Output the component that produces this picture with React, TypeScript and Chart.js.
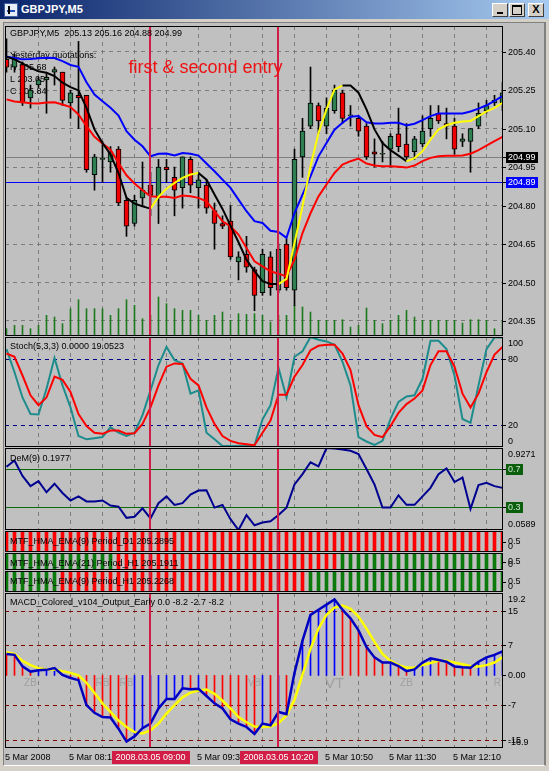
import React, { useEffect, useRef } from "react";
import { Chart, registerables } from "chart.js";

Chart.register(...registerables);

// ---------------- data ----------------
const opens = [205.37, 205.34, 205.35, 205.22, 205.27, 205.29, 205.32, 205.32, 205.20, 205.23,
  205.23, 204.92, 204.98, 204.97, 205.02, 204.82, 204.73, 204.83, 204.88, 204.83,
  204.95, 204.91, 204.87, 204.98, 204.87, 204.88, 204.78, 204.73, 204.74, 204.58,
  204.61, 204.55, 204.46, 204.60, 204.47, 204.65, 204.47, 204.99, 205.11, 205.19,
  205.11, 205.17, 205.24, 205.15, 205.14, 205.11, 205.01, 205.00, 205.02, 205.08,
  205.04, 205.01, 205.04, 205.10, 205.16, 205.12, 205.11, 205.05, 205.05, 205.11,
  205.17, 205.20, 205.20];
const highs = [205.45, 205.39, 205.36, 205.27, 205.30, 205.32, 205.34, 205.32, 205.25, 205.44,
  205.23, 205.00, 205.05, 205.03, 205.03, 204.83, 204.84, 204.97, 204.93, 204.98,
  204.98, 204.95, 204.99, 204.99, 204.93, 204.90, 204.81, 204.76, 204.80, 204.62,
  204.68, 204.56, 204.63, 204.62, 204.65, 204.67, 205.02, 205.14, 205.34, 205.20,
  205.22, 205.27, 205.25, 205.19, 205.15, 205.12, 205.06, 205.05, 205.08, 205.18,
  205.12, 205.07, 205.15, 205.19, 205.19, 205.18, 205.14, 205.08, 205.10, 205.20,
  205.21, 205.23, 205.28];
const lows = [205.32, 205.32, 205.19, 205.18, 205.26, 205.16, 205.27, 205.19, 205.14, 205.10,
  204.93, 204.86, 204.89, 204.93, 204.80, 204.68, 204.72, 204.80, 204.76, 204.73,
  204.89, 204.76, 204.79, 204.85, 204.79, 204.77, 204.63, 204.71, 204.59, 204.51,
  204.54, 204.39, 204.45, 204.45, 204.46, 204.47, 204.41, 204.91, 205.10, 205.08,
  205.08, 205.16, 205.12, 205.11, 205.07, 204.98, 204.95, 204.97, 204.95, 205.01,
  204.98, 204.98, 205.03, 205.07, 205.12, 205.06, 205.00, 205.03, 204.93, 205.10,
  205.16, 205.19, 205.17];
const closes = [205.34, 205.37, 205.20, 205.25, 205.29, 205.30, 205.33, 205.21, 205.24, 205.22,
  204.94, 204.99, 204.98, 205.01, 204.81, 204.72, 204.82, 204.86, 204.84, 204.95,
  204.94, 204.86, 204.99, 204.88, 204.90, 204.79, 204.73, 204.72, 204.60, 204.60,
  204.56, 204.45, 204.61, 204.48, 204.63, 204.48, 204.98, 205.09, 205.20, 205.13,
  205.18, 205.25, 205.14, 205.15, 205.09, 204.99, 205.00, 205.00, 205.07, 205.03,
  204.99, 205.06, 205.09, 205.14, 205.13, 205.11, 205.02, 205.06, 205.10, 205.16,
  205.19, 205.21, 205.24];
const volumes = [22, 32, 32, 22, 32, 62, 57, 37, 82, 109,
  82, 82, 82, 62, 82, 109, 92, 52, 62, 117,
  97, 82, 77, 77, 62, 47, 62, 72, 47, 67,
  65, 67, 62, 42, 62, 62, 92, 87, 72, 47,
  47, 47, 49, 27, 32, 84, 47, 37, 47, 62,
  77, 57, 47, 47, 47, 47, 47, 39, 49, 49,
  47, 22, 47];
const maBlue = [205.380, 205.375, 205.370, 205.371, 205.374, 205.376, 205.375, 205.363, 205.348, 205.341,
  205.281, 205.233, 205.207, 205.181, 205.151, 205.090, 205.057, 205.031, 204.992, 205.002,
  205.003, 204.995, 205.005, 205.002, 204.995, 204.964, 204.934, 204.901, 204.869, 204.823,
  204.778, 204.739, 204.732, 204.702, 204.697, 204.674, 204.771, 204.843, 204.914, 204.992,
  205.044, 205.096, 205.123, 205.146, 205.149, 205.125, 205.120, 205.120, 205.123, 205.123,
  205.112, 205.119, 205.133, 205.149, 205.159, 205.159, 205.159, 205.159, 205.167, 205.178,
  205.191, 205.208, 205.227];
const maRed = [205.214, 205.206, 205.203, 205.199, 205.198, 205.202, 205.203, 205.194, 205.184, 205.155,
  205.110, 205.068, 205.042, 205.018, 204.966, 204.918, 204.886, 204.860, 204.836, 204.834,
  204.834, 204.830, 204.839, 204.836, 204.830, 204.817, 204.778, 204.739, 204.719, 204.687,
  204.635, 204.583, 204.563, 204.544, 204.534, 204.524, 204.589, 204.693, 204.770, 204.836,
  204.882, 204.927, 204.960, 204.973, 204.983, 204.964, 204.956, 204.953, 204.953, 204.951,
  204.948, 204.956, 204.973, 204.986, 204.992, 204.994, 204.994, 204.995, 205.002, 205.016,
  205.034, 205.051, 205.068];
const hmaColored = [205.380, 205.370, 205.354, 205.337, 205.324, 205.318, 205.305, 205.279, 205.262, 205.249,
  205.181, 205.097, 205.044, 204.999, 204.927, 204.830, 204.808, 204.797, 204.788, 204.834,
  204.866, 204.888, 204.908, 204.921, 204.927, 204.901, 204.843, 204.787, 204.722, 204.657,
  204.589, 204.544, 204.505, 204.494, 204.494, 204.514, 204.654, 204.797, 204.953, 205.083,
  205.175, 205.253, 205.268, 205.268, 205.240, 205.175, 205.097, 205.044, 205.016, 204.995,
  204.973, 204.985, 205.012, 205.057, 205.097, 205.113, 205.123, 205.128, 205.130, 205.149,
  205.167, 205.181, 205.201];
const stochMain = [89, 68, 45, 30, 29.5, 53, 81, 56, 36, 10,
  7, 8, 9, 18, 13, 10, 13, 29, 51.5, 74.5,
  91, 79, 76, 48.5, 51.5, 13, 7, 1, 1, 1,
  1, 1.6, 25, 38, 72, 45, 82, 87, 100, 97.5,
  96, 93, 77.5, 56, 9, 5, 2, 5.6, 25.5, 41,
  46, 47, 62, 96.5, 96.5, 89, 65, 25.5, 22, 56,
  89, 99.6, 99.6];
const stochSignal = [85, 82, 65, 47, 38, 45, 64, 61, 50, 30,
  19, 13, 12, 15, 15, 12, 12.5, 21, 36, 56,
  73, 76, 75.5, 62, 56, 36, 21, 10, 5.6, 3.5,
  2.6, 1.6, 13, 24, 47.5, 47.5, 64, 74.5, 88, 92,
  93, 93, 85, 70, 38, 19, 11, 9, 19, 31,
  39, 44, 51.5, 74.5, 87, 87, 73, 48.5, 36, 48.5,
  68, 84, 91];
const deMarker = [0.729, 0.794, 0.632, 0.523, 0.577, 0.459, 0.549, 0.451, 0.372, 0.415,
  0.361, 0.361, 0.372, 0.318, 0.307, 0.188, 0.199, 0.289, 0.181, 0.343,
  0.415, 0.325, 0.343, 0.433, 0.477, 0.480, 0.296, 0.325, 0.174, 0.059,
  0.217, 0.109, 0.138, 0.152, 0.217, 0.296, 0.541, 0.650, 0.776, 0.732,
  0.927, 0.921, 0.912, 0.898, 0.862, 0.704, 0.541, 0.296, 0.296, 0.426,
  0.325, 0.325, 0.415, 0.505, 0.650, 0.711, 0.567, 0.614, 0.282, 0.534,
  0.559, 0.523, 0.505];
// +1 = up (green), -1 = down (red)
const mtfD1Trend = [-1, -1, -1, -1, -1, -1, -1, -1, -1, -1, -1, -1, -1, -1, -1, -1, -1, -1, -1, -1, -1,
  -1, -1, -1, -1, -1, -1, -1, -1, -1, -1, -1, -1, -1, -1, -1, -1, -1, -1, -1, -1, -1,
  -1, -1, -1, -1, -1, -1, -1, -1, -1, -1, -1, -1, -1, -1, -1, -1, -1, -1, -1, -1, -1];
const mtfH1Ema21Trend = [1, 1, 1, 1, 1, 1, 1, 1, 1, 1, 1, 1, 1, 1,
  -1, -1, -1, -1, -1, -1, -1, -1, -1, -1, -1, -1, -1, -1, -1, -1, -1, -1, -1, -1, -1, -1, -1, -1, -1, -1, -1, -1,
  1, 1, 1, 1, 1, 1, 1, 1, 1, 1, 1, 1, 1, 1, 1, 1, 1, 1, 1, 1, 1];
const mtfH1Ema9Trend = [1, 1, 1, 1, 1, 1, 1,
  -1, -1, -1, -1, -1, -1, -1, -1, -1, -1, -1, -1, -1, -1, -1, -1, -1, -1, -1, -1, -1, -1, -1, -1, -1,
  -1, -1, -1, -1, -1, -1,
  1, 1, 1, 1, 1, 1, 1, 1, 1, 1, 1, 1, 1, 1, 1, 1, 1, 1, 1, 1, 1, 1, 1, 1, 1];
const macdMain = [5.0, 4.8, 2.1, 0.9, 1.2, 1.3, 1.7, 0.1, -0.6, -1.1,
  -6.9, -8.7, -9.7, -9.8, -12.4, -15.4, -14.2, -12.3, -11.2, -7.7,
  -5.5, -5.5, -3.0, -3.2, -3.1, -4.8, -6.5, -7.7, -10.2, -11.2,
  -12.0, -13.6, -11.2, -11.6, -8.5, -9.0, 0.6, 8.1, 14.1, 15.3,
  16.5, 17.7, 15.3, 13.3, 10.5, 6.6, 4.2, 3.0, 3.0, 2.2,
  1.0, 1.4, 3.0, 4.0, 3.6, 3.2, 2.1, 1.9, 1.8, 3.2,
  4.2, 4.8, 5.6];
const macdSignal = [5.4, 5.0, 3.4, 2.4, 1.7, 1.4, 1.4, 1.0, 0.6, 0.0,
  -1.7, -4.1, -6.5, -8.5, -10.5, -12.0, -13.2, -13.5, -12.8, -11.2,
  -8.9, -6.9, -5.1, -4.0, -3.5, -3.3, -4.3, -5.9, -7.7, -9.7,
  -10.9, -11.9, -12.0, -11.9, -11.1, -9.3, -5.7, 0.2, 6.2, 10.9,
  14.1, 15.8, 16.3, 15.5, 13.7, 10.9, 7.8, 5.0, 3.4, 2.4,
  1.8, 1.8, 2.4, 2.9, 3.4, 3.4, 3.0, 2.6, 2.2, 2.1,
  2.4, 3.0, 4.2];

const priceTicks = [205.4, 205.25, 205.1, 204.95, 204.8, 204.65, 204.5, 204.35];
const priceRange = [204.2915, 205.5001];
const stochLevels = [80, 20];
const stochAxisTicks = [100, 80, 20, 0];
const demLevels = [0.7, 0.3];
const demRange = [0.0589, 0.9271];
const macdLevels = [15, 7, -7, -15];
const macdAxisTicks = [19.2, 15, 7, 0, -7, -15, -16.9];
const macdAxisTexts = ["19.2", "15", "7", "0.00", "-7", "-15", "-16.9"];
const macdRange = [-16.9, 19.2];
const gridBars = [4, 8, 12, 16, 20, 24, 28, 32, 36, 40, 44, 48, 52, 56, 60];
const timeLabelBars = [0, 8, 16, 24, 32, 40, 48, 56];
const timeLabelTexts = ["5 Mar 2008", "5 Mar 08:10", "5 Mar 08:50", "5 Mar 09:30", "5 Mar 10:10", "5 Mar 10:50", "5 Mar 11:30", "5 Mar 12:10"];
const entryBars = [18, 34];
const entryTexts = ["2008.03.05 09:00", "2008.03.05 10:20"];
const bidPrice = 204.99;
const userLinePrice = 204.89;
const macdMarkBars = [3, 12, 15, 31, 41, 50, 62];
const macdMarkTexts = ["ZB", "RB", "RB", "VB", "VT", "ZB", "R"];

// ---------------- style ----------------
const FONT = '"Liberation Sans", Arial, sans-serif';
const F9 = `9px ${FONT}`;
const X_MIN = -0.1875;
const X_MAX = X_MIN + 62.25;
const AXIS_W = 42;
const GRID = "#7c7c7c";
const ENTRY = "#d21e46";
const BULL = "#2f7f52";
const BEAR = "#ee0000";

const pts = (arr: number[]) => arr.map((v, i) => ({ x: i, y: v }));

function drawText(ctx: CanvasRenderingContext2D, a: any, t: any) {
  ctx.font = t.font || F9;
  ctx.fillStyle = t.color || "#000";
  ctx.textAlign = t.align || "left";
  ctx.textBaseline = t.baseline || "middle";
  ctx.fillText(t.text, a.left + t.x, a.top + t.y);
}

function deco(d: any) {
  return {
    id: "mt4deco",
    beforeDatasetsDraw(chart: any) {
      const { ctx, chartArea: a, scales } = chart;
      ctx.save();
      ctx.beginPath();
      ctx.rect(a.left, a.top, a.right - a.left, a.bottom - a.top);
      ctx.clip();
      for (const l of d.levels || []) {
        const py = Math.round(scales.y.getPixelForValue(l.value)) + 0.5;
        ctx.strokeStyle = l.color;
        ctx.lineWidth = 1;
        ctx.setLineDash(l.dash || []);
        ctx.beginPath();
        ctx.moveTo(a.left, py);
        ctx.lineTo(a.right, py);
        ctx.stroke();
      }
      ctx.setLineDash([]);
      for (const t of d.backTexts || []) drawText(ctx, a, t);
      ctx.restore();
    },
    afterDatasetsDraw(chart: any) {
      const { ctx, chartArea: a, scales } = chart;
      ctx.save();
      ctx.beginPath();
      ctx.rect(a.left, a.top, a.right - a.left, a.bottom - a.top);
      ctx.clip();
      if (d.marks) {
        d.marks.bars.forEach((b: number, i: number) => {
          const txt = d.marks.texts[i];
          ctx.font = txt === "VT" ? `15px ${FONT}` : `10px ${FONT}`;
          ctx.fillStyle = "#a0a0a0";
          ctx.textAlign = "center";
          ctx.textBaseline = "middle";
          const w = ctx.measureText(txt).width;
          const px = Math.min(scales.x.getPixelForValue(b), a.right - 2 - w / 2);
          ctx.fillText(txt, px, scales.y.getPixelForValue(d.marks.value));
        });
      }
      ctx.strokeStyle = ENTRY;
      ctx.lineWidth = 2;
      for (const b of entryBars) {
        const px = Math.floor(scales.x.getPixelForValue(b));
        ctx.beginPath();
        ctx.moveTo(px, a.top);
        ctx.lineTo(px, a.bottom);
        ctx.stroke();
      }
      for (const t of d.frontTexts || []) drawText(ctx, a, t);
      ctx.restore();
    },
    afterDraw(chart: any) {
      const { ctx, chartArea: a, scales } = chart;
      ctx.save();
      ctx.setLineDash([]);
      ctx.strokeStyle = "#000";
      ctx.lineWidth = 1;
      ctx.strokeRect(a.left + 0.5, a.top + 0.5, a.right - a.left - 1, a.bottom - a.top - 1);
      ctx.font = F9;
      ctx.textBaseline = "middle";
      ctx.textAlign = "left";
      for (const r of d.rightLabels || []) {
        const raw = scales.y.getPixelForValue(r.value);
        const py = Math.min(Math.max(raw, a.top + 6), a.bottom - 6);
        if (raw > a.top + 1 && raw < a.bottom - 1) {
          ctx.fillStyle = "#000";
          ctx.fillRect(a.right, Math.round(raw), 3, 1);
        }
        const tx = a.right + 5;
        if (r.bg) {
          const w = ctx.measureText(r.text).width;
          ctx.fillStyle = r.bg;
          ctx.fillRect(tx - 2, Math.round(py) - 5, Math.ceil(w) + 4, 11);
        }
        ctx.fillStyle = r.fg || "#000";
        ctx.fillText(r.text, tx, py + 0.5);
      }
      if (d.timeAxis) {
        const ty = a.bottom + 10;
        ctx.fillStyle = "#000";
        ctx.textAlign = "left";
        timeLabelBars.forEach((b, i) => {
          ctx.fillText(timeLabelTexts[i], scales.x.getPixelForValue(b) - 1.5, ty);
        });
        entryBars.forEach((b, i) => {
          const px = scales.x.getPixelForValue(b);
          const w = Math.round(ctx.measureText(entryTexts[i]).width + 8);
          ctx.fillStyle = ENTRY;
          ctx.fillRect(Math.round(px - w / 2), a.bottom + 3, w, 13);
          ctx.fillStyle = "#fff";
          ctx.textAlign = "center";
          ctx.fillText(entryTexts[i], px, ty);
          ctx.textAlign = "left";
        });
      }
      ctx.restore();
    },
  };
}

function baseOptions(yMin: number, yMax: number, o: any) {
  const scales: any = {
    x: {
      type: "linear",
      min: X_MIN,
      max: X_MAX,
      offset: false,
      afterBuildTicks: (s: any) => {
        s.ticks = gridBars.map((v) => ({ value: v }));
      },
      ticks: { display: false },
      grid: { display: !!o.xGrid, color: GRID, lineWidth: 1, drawTicks: false, offset: false },
      border: { display: false, dash: [4, 4] },
    },
    y: {
      type: "linear",
      position: "right",
      min: yMin,
      max: yMax,
      afterBuildTicks: (s: any) => {
        s.ticks = (o.yGrid || []).map((v: number) => ({ value: v }));
      },
      afterFit: (s: any) => {
        s.width = AXIS_W;
      },
      ticks: { display: false },
      grid: { display: !!o.yGrid, color: GRID, lineWidth: 1, drawTicks: false },
      border: { display: false, dash: [4, 4] },
    },
  };
  if (o.extraScales) Object.assign(scales, o.extraScales);
  return {
    responsive: false,
    maintainAspectRatio: false,
    animation: false,
    devicePixelRatio: 1,
    events: [],
    layout: { padding: { left: 0, right: 0, top: 0, bottom: o.padBottom || 0 }, autoPadding: false },
    plugins: { legend: { display: false }, tooltip: { enabled: false }, title: { display: false } },
    scales,
  };
}

const lineDs = (data: number[], color: string, order: number, extra: any = {}) => ({
  type: "line",
  data: pts(data),
  borderColor: color,
  borderWidth: 2,
  pointRadius: 0,
  tension: 0,
  order,
  ...extra,
});

function mainConfig() {
  const bodyColors = opens.map((o, i) => (closes[i] >= o ? BULL : BEAR));
  return {
    type: "bar",
    data: {
      datasets: [
        lineDs(hmaColored, "#000", 0, {
          segment: { borderColor: (c: any) => (c.p1.parsed.y > c.p0.parsed.y ? "#ffff00" : "#000000") },
        }),
        lineDs(maBlue, "#0000ff", 1),
        lineDs(maRed, "#ff0000", 2),
        {
          type: "bar",
          data: opens.map((o, i) => ({ x: i, y: [o, closes[i]] })),
          backgroundColor: bodyColors,
          borderColor: "#000",
          borderWidth: 1,
          borderSkipped: false,
          barThickness: 5,
          minBarLength: 1,
          grouped: false,
          order: 3,
        },
        {
          type: "bar",
          data: lows.map((l, i) => ({ x: i, y: [l, highs[i]] })),
          backgroundColor: "#000",
          barThickness: 1,
          grouped: false,
          order: 4,
        },
        {
          type: "bar",
          yAxisID: "yv",
          data: pts(volumes),
          backgroundColor: "#1f7a1f",
          barThickness: 1,
          grouped: false,
          order: 5,
        },
      ],
    },
    options: baseOptions(priceRange[0], priceRange[1], {
      xGrid: true,
      yGrid: priceTicks,
      extraScales: { yv: { type: "linear", display: false, min: 0, max: 930 } },
    }),
    plugins: [
      deco({
        levels: [
          { value: bidPrice, color: "#808080" },
          { value: userLinePrice, color: "#0000ff" },
        ],
        backTexts: [
          { text: "Yesterday quotations:", x: 5, y: 30 },
          { text: "H 205.68", x: 5, y: 42 },
          { text: "L 203.65", x: 5, y: 54 },
          { text: "C 205.84", x: 5, y: 66 },
        ],
        frontTexts: [
          { text: "GBPJPY,M5  205.13 205.16 204.88 204.99", x: 5, y: 7.5 },
          { text: "first & second entry", x: 123.5, y: 47, font: `18px ${FONT}`, color: "#ee1111", baseline: "alphabetic" },
        ],
        rightLabels: [
          ...priceTicks.map((v) => ({ value: v, text: v.toFixed(2) })),
          { value: bidPrice, text: bidPrice.toFixed(2), bg: "#000", fg: "#fff" },
          { value: userLinePrice, text: userLinePrice.toFixed(2), bg: "#0000ff", fg: "#fff" },
        ],
      }),
    ],
  };
}

function stochConfig() {
  return {
    type: "line",
    data: { datasets: [lineDs(stochSignal, "#ff0000", 0), lineDs(stochMain, "#1e8c8c", 1)] },
    options: baseOptions(0, 100, { xGrid: true }),
    plugins: [
      deco({
        levels: stochLevels.map((v) => ({ value: v, color: "#000080", dash: [4, 4] })),
        frontTexts: [{ text: "Stoch(5,3,3) 0.0000 19.0523", x: 5, y: 10 }],
        rightLabels: stochAxisTicks.map((v) => ({ value: v, text: String(v) })),
      }),
    ],
  };
}

function demConfig() {
  return {
    type: "line",
    data: { datasets: [lineDs(deMarker, "#000090", 0)] },
    options: baseOptions(demRange[0], demRange[1], { xGrid: true }),
    plugins: [
      deco({
        levels: demLevels.map((v) => ({ value: v, color: "#0b6b0b" })),
        frontTexts: [{ text: "DeM(9) 0.1977", x: 5, y: 10.5 }],
        rightLabels: [
          { value: demRange[1], text: demRange[1].toFixed(4) },
          ...demLevels.map((v) => ({ value: v, text: String(v), bg: "#0b5e0b", fg: "#cfe8cf" })),
          { value: demRange[0], text: demRange[0].toFixed(4) },
        ],
      }),
    ],
  };
}

function mtfConfig(trend: number[], title: string) {
  return {
    type: "bar",
    data: {
      datasets: [
        {
          type: "bar",
          data: trend.map((_, i) => ({ x: i, y: 1 })),
          backgroundColor: trend.map((t) => (t > 0 ? "#0a7a0a" : "#ff0000")),
          barThickness: 3,
          grouped: false,
        },
      ],
    },
    options: baseOptions(0, 1, {}),
    plugins: [
      deco({
        frontTexts: [{ text: title, x: 5, y: 10.5 }],
        rightLabels: [
          { value: 0.5, text: "0.5" },
          { value: 0, text: "0" },
        ],
      }),
    ],
  };
}

function macdConfig() {
  const histColors = macdMain.map((v, i) => (i > 0 && v >= macdMain[i - 1] ? "#0000ff" : "#ff0000"));
  return {
    type: "bar",
    data: {
      datasets: [
        lineDs(macdMain, "#0000c0", 0, { borderWidth: 2.5 }),
        lineDs(macdSignal, "#ffff00", 1, { borderWidth: 2.5 }),
        {
          type: "bar",
          data: pts(macdMain),
          backgroundColor: histColors,
          barThickness: 1,
          grouped: false,
          order: 2,
        },
      ],
    },
    options: baseOptions(macdRange[0], macdRange[1], { xGrid: true, padBottom: 16 }),
    plugins: [
      deco({
        levels: macdLevels.map((v) => ({ value: v, color: "#800000", dash: [4, 4] })),
        marks: { bars: macdMarkBars, texts: macdMarkTexts, value: -1.9 },
        frontTexts: [{ text: "MACD_Colored_v104_Output_Early 0.0 -8.2 -2.7 -8.2", x: 5, y: 10 }],
        rightLabels: macdAxisTicks.map((v, i) => ({ value: v, text: macdAxisTexts[i] })),
        timeAxis: true,
      }),
    ],
  };
}

function ChartPanel({ top, height, build }: { top: number; height: number; build: () => any }) {
  const ref = useRef<HTMLCanvasElement>(null);
  useEffect(() => {
    if (!ref.current) return;
    const chart = new Chart(ref.current, build());
    return () => chart.destroy();
  }, []);
  return (
    <canvas
      ref={ref}
      width={540}
      height={height}
      style={{ position: "absolute", left: 5, top, width: 540, height, display: "block" }}
    />
  );
}

const btn: React.CSSProperties = {
  position: "absolute",
  top: 3,
  width: 14,
  height: 12,
  background: "#d4d0c8",
  borderTop: "1px solid #fff",
  borderLeft: "1px solid #fff",
  borderRight: "1px solid #404040",
  borderBottom: "1px solid #404040",
  boxSizing: "content-box",
};

export default function App() {
  return (
    <div
      style={{
        position: "fixed",
        left: 0,
        top: 0,
        width: 549,
        height: 771,
        background: "#d4d0c8",
        overflow: "hidden",
        fontFamily: FONT,
      }}
    >
      <div
        style={{
          position: "absolute",
          left: 0,
          top: 0,
          width: 549,
          height: 19,
          background: "linear-gradient(to right, #0a246a, #a6caf0)",
        }}
      />
      <div
        style={{
          position: "absolute",
          left: 4,
          top: 3,
          width: 12,
          height: 12,
          background: "#e8eef8",
          border: "1px solid #4060a0",
        }}
      >
        <div style={{ position: "absolute", left: 2, top: 6, width: 8, height: 2, background: "#2050c0" }} />
        <div style={{ position: "absolute", left: 3, top: 2, width: 2, height: 8, background: "#000" }} />
      </div>
      <div
        style={{
          position: "absolute",
          left: 21,
          top: 3,
          color: "#fff",
          font: `bold 11px ${FONT}`,
          lineHeight: "13px",
        }}
      >
        GBPJPY,M5
      </div>
      <div style={{ ...btn, left: 492 }}>
        <div style={{ position: "absolute", left: 4, top: 8, width: 6, height: 2, background: "#000" }} />
      </div>
      <div style={{ ...btn, left: 509 }}>
        <div
          style={{
            position: "absolute",
            left: 2,
            top: 1,
            width: 8,
            height: 7,
            borderTop: "2px solid #000",
            borderLeft: "1px solid #000",
            borderRight: "1px solid #000",
            borderBottom: "1px solid #000",
          }}
        />
      </div>
      <div style={{ ...btn, left: 528 }}>
        <div
          style={{
            position: "absolute",
            left: 0,
            top: -1,
            width: 14,
            textAlign: "center",
            font: `bold 11px ${FONT}`,
            lineHeight: "13px",
            color: "#000",
          }}
        >
          X
        </div>
      </div>
      <div
        style={{
          position: "absolute",
          left: 3,
          top: 22,
          width: 540,
          height: 742,
          background: "#c0c0c0",
          borderTop: "1px solid #808080",
          borderLeft: "1px solid #808080",
          borderRight: "2px solid #808080",
          borderBottom: "1px solid #ffffff",
        }}
      />
      <ChartPanel top={26} height={310} build={mainConfig} />
      <ChartPanel top={337} height={110} build={stochConfig} />
      <ChartPanel top={448} height={82} build={demConfig} />
      <ChartPanel top={531} height={21} build={() => mtfConfig(mtfD1Trend, "MTF_HMA_EMA(9) Period_D1 205.2895")} />
      <ChartPanel top={553} height={17} build={() => mtfConfig(mtfH1Ema21Trend, "MTF_HMA_EMA(21) Period_H1 205.1911")} />
      <ChartPanel top={571} height={21} build={() => mtfConfig(mtfH1Ema9Trend, "MTF_HMA_EMA(9) Period_H1 205.2268")} />
      <ChartPanel top={593} height={171} build={macdConfig} />
    </div>
  );
}
